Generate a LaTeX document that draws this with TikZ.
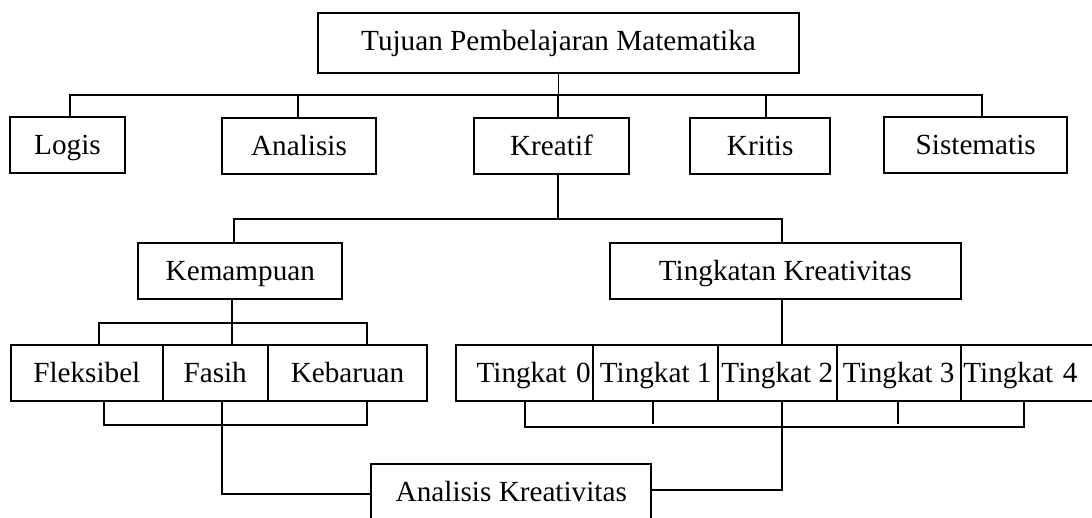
\documentclass[tikz,border=0pt]{standalone}
\usepackage{fontspec}
\setmainfont{Liberation Serif}
\usepackage{tikz}

\tikzset{
  kotak/.style={draw, line width=0.9pt, inner xsep=0pt, inner ysep=0pt,
    text height=18.7pt, text depth=9.3pt, font=\fontsize{14.6}{17}\selectfont},
  garis/.style={line width=0.9pt},
}

\begin{document}
\begin{tikzpicture}[x=0.5pt,y=-0.5pt]
    \useasboundingbox (0,0) rectangle (1092,518);
    % baris atas
    \node[kotak, minimum width=240.2pt, text depth=11pt] (tujuan) at (558.5,43) {Tujuan Pembelajaran Matematika};
    \node[kotak, minimum width=57.5pt] (logis) at (67.5,144.7) {Logis};
    \node[kotak, minimum width=77.3pt] (analisis) at (299,146.3) {Analisis};
    \node[kotak, minimum width=77.5pt] (kreatif) at (551.5,146.3) {Kreatif};
    \node[kotak, minimum width=70.15pt] (kritis) at (760.2,146.3) {Kritis};
    \node[kotak, minimum width=91.65pt] (sistematis) at (975.7,144.7) {Sistematis};
    % cabang kreatif
    \node[kotak, minimum width=102pt] (kemampuan) at (240.3,270.8) {Kemampuan};
    \node[kotak, minimum width=175.35pt] (tingkatan) at (785.3,270.8) {Tingkatan Kreativitas};
    \node[kotak, minimum width=75.85pt] (fleksibel) at (86.8,373) {Fleksibel};
    \node[kotak, minimum width=52.5pt] (fasih) at (215.2,373) {Fasih};
    \node[kotak, minimum width=79.8pt] (kebaruan) at (347.5,373) {Kebaruan};
    \node[kotak, minimum width=68.65pt, text width=66pt, align=right] (t0) at (524.7,373) {Tingkat 0};
    \node[kotak, minimum width=62.35pt] (t1) at (655.7,373) {Tingkat 1};
    \node[kotak, minimum width=59.35pt] (t2) at (777.3,373) {Tingkat 2};
    \node[kotak, minimum width=62pt] (t3) at (898.7,373) {Tingkat 3};
    \node[kotak, minimum width=69.65pt, text width=67.05pt, align=left] (t4) at (1030.35,373) {Tingkat 4};
    \node[kotak, minimum width=140pt] (analisisk) at (511.3,492) {Analisis Kreativitas};

    % garis tujuan
    \coordinate (busA) at (70,95);
    \coordinate (busB) at (982.3,95);
    \coordinate (jA) at (297.7,95);
    \coordinate (jK) at (558.3,95);
    \coordinate (jR) at (766.3,95);
    \draw[garis] (tujuan.south) -- (tujuan.south |- busA);
    \draw[garis] (busA |- logis.north) -- (busA) -- (busB) -- (busB |- sistematis.north);
    \draw[garis] (jA) -- (jA |- analisis.north);
    \draw[garis] (jK) -- (jK |- kreatif.north);
    \draw[garis] (jR) -- (jR |- kritis.north);

    % garis kreatif
    \coordinate (kr) at (558.3,219.3);
    \coordinate (busC) at (234.3,219.3);
    \coordinate (busD) at (782.3,219.3);
    \draw[garis] (kreatif.south -| kr) -- (kr);
    \draw[garis] (busC |- kemampuan.north) -- (busC) -- (busD) -- (busD |- tingkatan.north);

    % garis kemampuan
    \coordinate (km) at (232.3,323);
    \coordinate (busE) at (99.3,323);
    \coordinate (busF) at (367.3,323);
    \draw[garis] (kemampuan.south -| km) -- (km |- fasih.north);
    \draw[garis] (busE |- fleksibel.north) -- (busE) -- (busF) -- (busF |- kebaruan.north);
    \coordinate (busG) at (104,424.7);
    \coordinate (busH) at (367.3,424.7);
    \draw[garis] (fleksibel.south -| busG) -- (busG) -- (busH) -- (kebaruan.south -| busH);
    \coordinate (fs) at (221.7,494.3);
    \draw[garis] (fasih.south -| fs) -- (fs) -- (fs -| analisisk.west);

    % garis tingkatan
    \coordinate (tk) at (782.3,299);
    \draw[garis] (tingkatan.south -| tk) -- (tk |- t2.north);
    \coordinate (busI) at (525.3,427.3);
    \coordinate (busJ) at (1023.7,427.3);
    \draw[garis] (t0.south -| busI) -- (busI) -- (busJ) -- (t4.south -| busJ);
    \coordinate (tc1) at (652.7,423.5);
    \coordinate (tc3) at (898.3,423.5);
    \draw[garis] (t1.south -| tc1) -- (tc1);
    \draw[garis] (t3.south -| tc3) -- (tc3);
    \coordinate (tm) at (782.3,490);
    \draw[garis] (t2.south -| tm) -- (tm) -- (tm -| analisisk.east);
\end{tikzpicture}
\end{document}
